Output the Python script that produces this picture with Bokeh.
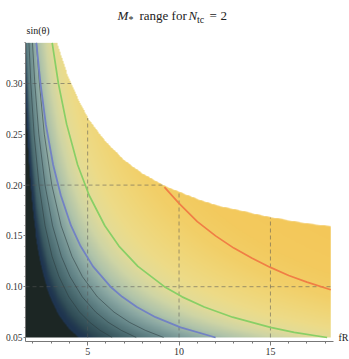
import numpy as np
from bokeh.plotting import figure
from bokeh.models import FixedTicker, Range1d
from bokeh.core.properties import value
from bokeh.embed import file_html
from bokeh.resources import INLINE

# ---------------- data ----------------
fr_min, fr_max = 1.6, 18.3
s_min, s_max = 0.05, 0.34

x_ticks = [5, 10, 15]
x_tick_labels = ["5", "10", "15"]
x_minor = [2, 3, 4, 6, 7, 8, 9, 11, 12, 13, 14, 16, 17, 18]
y_ticks = [0.05, 0.10, 0.15, 0.20, 0.25, 0.30]
y_tick_labels = ["0.05", "0.10", "0.15", "0.20", "0.25", "0.30"]
y_minor = [0.06, 0.07, 0.08, 0.09, 0.11, 0.12, 0.13, 0.14, 0.16, 0.17, 0.18, 0.19,
           0.21, 0.22, 0.23, 0.24, 0.26, 0.27, 0.28, 0.29, 0.31, 0.32, 0.33, 0.34]

grid_x = [5, 10, 15]
grid_y = [0.10, 0.20, 0.30]

# upper edge of the allowed region (white above it)
boundary_fr = [3.33, 3.6, 3.9, 4.4, 5.0, 5.4, 6.0, 7.0, 8.0, 9.19, 10.0, 11.0, 12.0, 13.0, 14.0, 15.0, 16.0, 17.0, 18.3]
boundary_s = [0.340, 0.324, 0.308, 0.287, 0.266, 0.256, 0.242, 0.224, 0.211, 0.199, 0.193, 0.186, 0.180, 0.176, 0.172, 0.168, 0.165, 0.162, 0.159]

# coloured contours
blue_fr = [2.19, 2.42, 2.71, 3.11, 3.53, 4.09, 4.61, 5.29, 6.25, 6.89, 7.69, 8.71, 10.08, 12.0]
blue_s = [0.34, 0.30, 0.26, 0.22, 0.19, 0.16, 0.14, 0.12, 0.10, 0.09, 0.08, 0.07, 0.06, 0.05]
green_fr = [3.06, 3.40, 3.85, 4.45, 5.08, 5.94, 6.71, 7.75, 9.20, 10.17, 11.38, 12.93, 15.0, 16.3, 18.1]
green_s = [0.34, 0.30, 0.26, 0.22, 0.19, 0.16, 0.14, 0.12, 0.10, 0.09, 0.08, 0.07, 0.06, 0.055, 0.05]
orange_fr = [9.2, 10.0, 11.0, 12.0, 13.0, 14.0, 15.0, 16.0, 17.0, 18.3]
orange_s = [0.198, 0.182, 0.164, 0.150, 0.138, 0.128, 0.119, 0.111, 0.1045, 0.097]

# thin dark contours
thin_s = [0.34, 0.30, 0.25, 0.20, 0.16, 0.13, 0.11, 0.09, 0.075, 0.065, 0.057, 0.05]
thin1_fr = [1.79, 1.89, 2.07, 2.34, 2.67, 3.05, 3.43, 3.97, 4.56, 5.11, 5.68, 6.34]
thin2_fr = [1.98, 2.11, 2.33, 2.67, 3.08, 3.56, 4.03, 4.70, 5.44, 6.12, 6.84, 7.66]
thin3_fr = [2.20, 2.36, 2.63, 3.04, 3.55, 4.14, 4.71, 5.53, 6.44, 7.28, 8.16, 9.16]

# density colour scale: level of (fR-0.5)*sin -> colour
level_stops = [0.20, 0.26, 0.33, 0.42, 0.52, 0.62, 0.74, 0.87, 1.05, 1.30, 1.60, 2.00, 2.60, 3.20]
level_colors = ["#23394a", "#2f4b55", "#45656b", "#66878a", "#8ba8a3", "#b0c4aa", "#cfd5a5",
                "#e3db98", "#eddb88", "#f0d678", "#f2cf68", "#f3ca5e", "#f3c85a", "#f3c758"]
dark_color = "#1c2624"
band_color = "#1e3450"
dark_level, band_level = 0.175, 0.235

# ---------------- density image ----------------
def hex2rgb(h):
    return np.array([int(h[i:i + 2], 16) for i in (1, 3, 5)], dtype=float)

nx, ny = 640, 420
xs = fr_min + (np.arange(nx) + 0.5) * (fr_max - fr_min) / nx
ys = s_min + (np.arange(ny) + 0.5) * (s_max - s_min) / ny
X, Y = np.meshgrid(xs, ys)
U = (X - 0.5) * Y
W = (X - 1.0) * Y

cols = np.array([hex2rgb(c) for c in level_colors])
rgb = np.stack([np.interp(U, level_stops, cols[:, k]) for k in range(3)], axis=-1)

f = np.clip((W - dark_level) / (band_level - dark_level), 0, 1)
f = f * f * (3 - 2 * f)
navy = hex2rgb(band_color)
rgb = navy + (rgb - navy) * f[..., None]
dk = hex2rgb(dark_color)
edge = np.clip((W - dark_level) / 0.004 + 0.5, 0, 1)
rgb = dk + (rgb - dk) * edge[..., None]

bnd = np.interp(X, boundary_fr, boundary_s, left=1.0, right=boundary_s[-1])
alpha = np.clip((bnd - Y) / 0.0009 + 0.5, 0, 1)

img = np.empty((ny, nx), dtype=np.uint32)
view = img.view(dtype=np.uint8).reshape((ny, nx, 4))
view[..., :3] = np.clip(rgb, 0, 255).astype(np.uint8)
view[..., 3] = (alpha * 255).astype(np.uint8)

# ---------------- figure ----------------
frame_left, frame_bottom = 25, 341
px_per_x = (333 - frame_left) / (18.45 - fr_min)   # pixels per unit of fR
px_per_y = 1016.0                                  # pixels per unit of sin
y_end = 0.05 + 337 / px_per_y
y_start = 0.05 - (frame_bottom - 337) / px_per_y
x_end = fr_min + (349 - frame_left) / px_per_x

p = figure(width=349, height=359, x_range=Range1d(fr_min, x_end), y_range=Range1d(y_start, y_end),
           output_backend="svg", toolbar_location=None,
           min_border_left=frame_left, min_border_right=0, min_border_top=0,
           min_border_bottom=359 - frame_bottom)
p.outline_line_color = None
p.grid.visible = False
p.background_fill_color = "white"
p.border_fill_color = "white"

p.image_rgba(image=[img], x=fr_min, y=s_min, dw=fr_max - fr_min, dh=s_max - s_min)

# dashed mesh lines, clipped to the allowed region
rb_s = boundary_s[::-1]
rb_fr = boundary_fr[::-1]
hx1 = [min(float(np.interp(g, rb_s, rb_fr)), fr_max) for g in grid_y]
vy1 = [min(float(np.interp(g, boundary_fr, boundary_s, left=s_max)), s_max) for g in grid_x]
p.segment(x0=[fr_min] * len(grid_y), y0=grid_y, x1=hx1, y1=grid_y,
          line_color="#555555", line_alpha=0.55, line_width=1, line_dash="4 3")
p.segment(x0=grid_x, y0=[s_min] * len(grid_x), x1=grid_x, y1=vy1,
          line_color="#555555", line_alpha=0.55, line_width=1, line_dash="4 3")

for tfr in (thin1_fr, thin2_fr, thin3_fr):
    p.line(tfr, thin_s, line_color="#2a3a3c", line_alpha=0.6, line_width=0.9)

p.line(blue_fr, blue_s, line_color="#7282c4", line_width=1.8)
p.line(green_fr, green_s, line_color="#88cf66", line_width=1.7)
p.line(orange_fr, orange_s, line_color="#f07e45", line_width=1.7)

# axes
xa = p.xaxis[0]
xa.ticker = FixedTicker(ticks=x_ticks, minor_ticks=x_minor)
xa.major_label_overrides = {t: l for t, l in zip(x_ticks, x_tick_labels)}
xa.bounds = (fr_min, 18.45)
ya = p.yaxis[0]
ya.ticker = FixedTicker(ticks=y_ticks, minor_ticks=y_minor)
ya.major_label_overrides = {t: l for t, l in zip(y_ticks, y_tick_labels)}
ya.bounds = (y_start, s_max)
for ax in (xa, ya):
    ax.axis_line_color = "#777777"
    ax.major_tick_line_color = "#777777"
    ax.minor_tick_line_color = "#777777"
    ax.major_tick_in = 0
    ax.minor_tick_in = 0
    ax.major_label_text_font = "Liberation Serif"
    ax.major_label_text_color = "#333333"
xa.major_label_text_font_size = "10px"
ya.major_label_text_font_size = "9.5px"
xa.major_tick_out = 4
xa.minor_tick_out = 2
xa.major_label_standoff = 2
ya.major_tick_out = 2
ya.minor_tick_out = 1
ya.major_label_standoff = 1

# ---------------- texts (inside the frame, above the data) ----------------
font = value("Liberation Serif")

def px2x(px):
    return fr_min + (px - frame_left) / px_per_x

def px2y(py):
    return 0.05 + (337 - py) / px_per_y

def put(texts, pxs, py, size, style="normal", baseline="alphabetic", align="left"):
    p.text(x=[px2x(v) for v in pxs], y=[px2y(py)] * len(texts), text=texts,
           text_font=font, text_font_size=value(size), text_font_style=style,
           text_color="#222222", text_baseline=baseline, text_align=align)

# title  M_* range for N_tc = 2
put(["M", "N"], [117, 188], 15, "13px", "italic")
put(["range for", "=", "2"], [139, 209, 220], 15, "13px")
put(["*", "tc"], [128, 196.5], 18.5, "10px")

# axis labels
put(["sin(θ)"], [26], 30, "10px")
put(["fR"], [338], 337, "10px", baseline="middle")

open("out.html", "w").write(file_html(p, INLINE))
